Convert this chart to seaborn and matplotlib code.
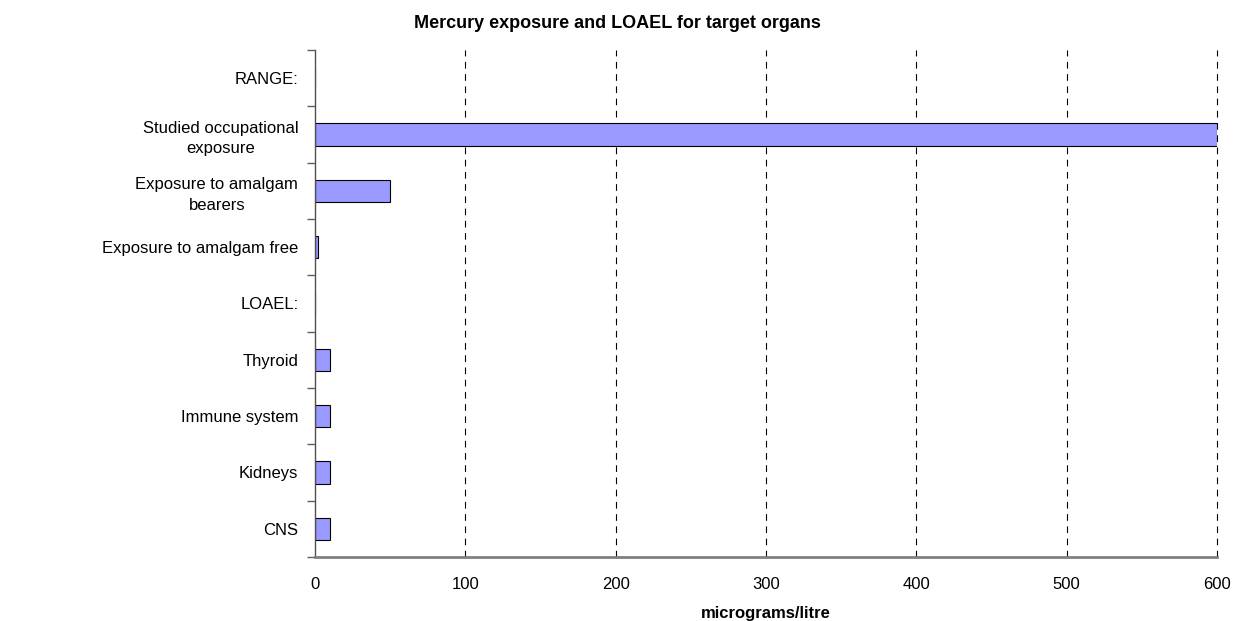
import pandas as pd
import numpy as np
import matplotlib
matplotlib.use("Agg")
import matplotlib.pyplot as plt
import seaborn as sns

# ---------- DATA ----------
categories = [
    "RANGE:",
    "Studied occupational\nexposure",
    "Exposure to amalgam\nbearers",
    "Exposure to amalgam free",
    "LOAEL:",
    "Thyroid",
    "Immune system",
    "Kidneys",
    "CNS",
]
values = [0, 600, 50, 2, 0, 10, 10, 10, 10]
x_ticks = [0, 100, 200, 300, 400, 500, 600]

df = pd.DataFrame({"category": categories, "value": values})

# ---------- STYLE ----------
sns.set_style("white")
plt.rcParams["font.family"] = ["Liberation Sans", "DejaVu Sans"]
plt.rcParams["text.color"] = "black"
plt.rcParams["xtick.color"] = "black"
plt.rcParams["ytick.color"] = "black"
plt.rcParams["axes.labelcolor"] = "black"

fig = plt.figure(figsize=(12.34, 6.21), dpi=100)
ax = fig.add_axes([315 / 1234, 1 - 557 / 621, (1217 - 315) / 1234, (557 - 50) / 621])

sns.barplot(data=df, y="category", x="value", order=categories, orient="h",
            color="#9999FF", edgecolor="black", linewidth=0.8, width=0.4,
            saturation=1, ax=ax)

# ---------- AXES ----------
ax.set_xlim(0, 600)
ax.set_ylim(len(categories) - 0.5, -0.5)
ax.set_xticks(x_ticks)
ax.set_xticklabels([str(t) for t in x_ticks], fontsize=12)
ax.tick_params(axis="x", length=5, width=1, color="#808080", direction="inout", pad=12)

# category labels on major ticks, boundary marks on minor ticks
ax.set_yticks(range(len(categories)))
ax.set_yticklabels(categories, fontsize=12, linespacing=1.45, multialignment="center")
ax.set_yticks(np.arange(-0.5, len(categories), 1), minor=True)
ax.tick_params(axis="y", which="major", length=0, pad=12)
ax.tick_params(axis="y", which="minor", length=6, width=1, color="#606060", left=True)

for t in x_ticks[1:]:
    ax.axvline(t, color="black", linestyle=(0, (6, 5)), linewidth=0.8, zorder=0, clip_on=False)

for side in ["top", "right"]:
    ax.spines[side].set_visible(False)
ax.spines["left"].set_color("#505050")
ax.spines["left"].set_linewidth(1)
ax.spines["bottom"].set_color("#808080")
ax.spines["bottom"].set_linewidth(2)

ax.set_ylabel("")
ax.set_xlabel("micrograms/litre", fontsize=12, fontweight="bold", labelpad=10)

fig.text(0.5, 1 - 23 / 621, "Mercury exposure and LOAEL for target organs",
         ha="center", va="center", fontsize=13, fontweight="bold")

plt.savefig("out.png", dpi=100)
